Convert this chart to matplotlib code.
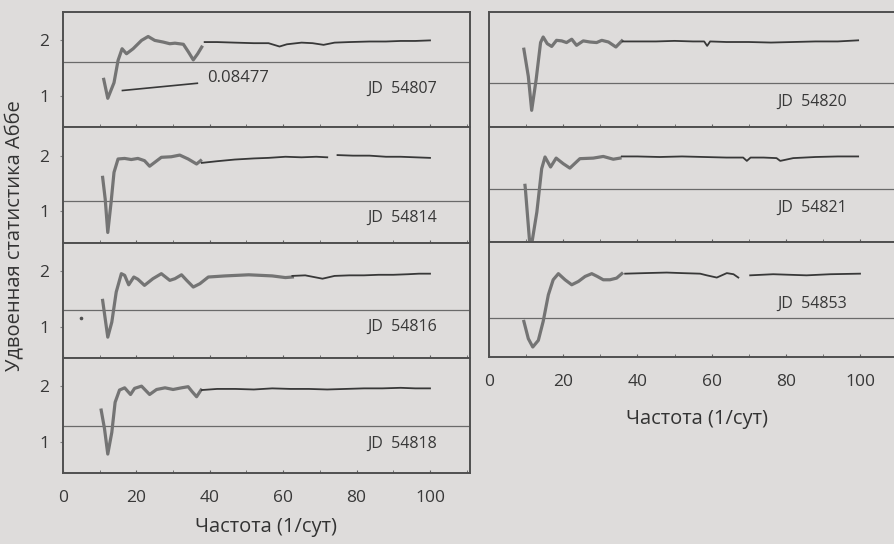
import numpy as np
import matplotlib.pyplot as plt
from matplotlib.ticker import MultipleLocator

plt.rcParams['font.family'] = ['Open Sans', 'DejaVu Sans']

# --- data: low-frequency part (grey) and tail (dark) ---
# JD 54807
f1 = [11.1, 12.2, 13.9, 15.0, 16.1, 17.3, 19.1, 21.4, 23.2, 25.0, 27.3, 29.1, 30.5, 32.8, 34.2, 35.5, 36.7, 37.8]
a1 = [1.30, 0.96, 1.24, 1.64, 1.85, 1.76, 1.85, 2.00, 2.07, 2.00, 1.97, 1.94, 1.95, 1.93, 1.79, 1.65, 1.76, 1.88]
ft1 = [38.6, 42.0, 46.8, 52.0, 56.0, 59.0, 61.0, 65.0, 68.0, 71.0, 74.0, 78.0, 83.5, 88.0, 92.0, 96.0, 100.0]
at1 = [1.97, 1.97, 1.96, 1.95, 1.95, 1.89, 1.93, 1.96, 1.95, 1.92, 1.96, 1.97, 1.98, 1.98, 1.99, 1.99, 2.00]
# JD 54814
f2 = [10.8, 11.5, 12.2, 13.1, 13.9, 15.0, 16.8, 18.6, 20.4, 22.2, 23.6, 25.0, 26.8, 29.5, 31.8, 34.1, 36.4, 37.5]
a2 = [1.61, 1.22, 0.62, 1.16, 1.70, 1.94, 1.95, 1.93, 1.95, 1.91, 1.81, 1.88, 1.97, 1.98, 2.01, 1.94, 1.85, 1.91]
ft2 = [37.8, 42.0, 46.8, 52.0, 56.0, 60.6, 65.0, 69.0, 72.0, np.nan, 74.8, 79.0, 83.5, 88.0, 92.0, 96.0, 100.0]
at2 = [1.87, 1.90, 1.93, 1.95, 1.96, 1.98, 1.97, 1.98, 1.97, np.nan, 2.01, 2.00, 2.00, 1.98, 1.98, 1.97, 1.96]
# JD 54816
f3 = [10.8, 11.5, 12.2, 13.3, 14.5, 15.9, 16.8, 17.9, 19.3, 20.4, 22.2, 24.5, 26.8, 29.1, 30.5, 32.3, 33.7,
      35.5, 37.3, 39.6, 44.2, 50.6, 57.0, 60.6, 62.5]
a3 = [1.47, 1.14, 0.81, 1.08, 1.62, 1.95, 1.92, 1.75, 1.89, 1.85, 1.74, 1.86, 1.95, 1.83, 1.86, 1.93, 1.83,
      1.71, 1.77, 1.89, 1.91, 1.93, 1.91, 1.88, 1.89]
ft3 = [62.5, 66.0, 70.7, 74.0, 78.0, 82.0, 86.0, 90.0, 94.0, 97.0, 100.0]
at3 = [1.91, 1.92, 1.86, 1.91, 1.92, 1.92, 1.93, 1.93, 1.94, 1.95, 1.95]
# JD 54818
f4 = [10.4, 11.3, 12.2, 13.3, 14.2, 15.4, 16.8, 18.4, 19.5, 21.4, 23.6, 25.5, 27.8, 30.0, 32.3, 34.1, 35.2, 36.4, 37.6]
a4 = [1.57, 1.24, 0.78, 1.17, 1.71, 1.93, 1.97, 1.85, 1.96, 2.00, 1.85, 1.94, 1.97, 1.94, 1.97, 1.99, 1.90, 1.81, 1.93]
ft4 = [37.8, 42.0, 47.0, 52.0, 57.0, 62.0, 67.0, 72.0, 77.0, 82.0, 87.0, 92.0, 96.0, 100.0]
at4 = [1.93, 1.95, 1.95, 1.94, 1.96, 1.95, 1.95, 1.94, 1.95, 1.96, 1.96, 1.97, 1.96, 1.96]
# JD 54820
f5 = [9.4, 10.6, 11.5, 12.7, 13.9, 14.6, 15.7, 16.9, 18.2, 19.6, 20.9, 22.3, 23.6, 25.4, 27.2, 29.0, 30.4, 32.2, 34.2, 35.8]
a5 = [1.84, 1.35, 0.74, 1.29, 1.96, 2.06, 1.94, 1.89, 2.00, 1.99, 1.96, 2.02, 1.91, 1.99, 1.97, 1.96, 2.00, 1.97, 1.88, 1.99]
ft5 = [36.0, 40.0, 45.0, 50.0, 55.0, 58.0, 58.8, 59.6, 64.0, 70.0, 76.0, 82.0, 88.0, 94.0, 99.5]
at5 = [1.98, 1.98, 1.98, 1.99, 1.98, 1.98, 1.90, 1.98, 1.97, 1.97, 1.96, 1.97, 1.98, 1.98, 2.00]
# JD 54821
f6 = [9.7, 9.8, 11.0, 11.5, 12.9, 14.2, 15.1, 16.6, 18.1, 20.0, 21.8, 24.5, 28.1, 30.8, 33.5, 35.3]
a6 = [1.46, 1.40, 0.40, 0.40, 0.98, 1.76, 1.97, 1.79, 1.95, 1.85, 1.77, 1.94, 1.95, 1.98, 1.93, 1.95]
ft6 = [35.8, 40.0, 46.0, 52.0, 58.0, 64.0, 68.5, 69.5, 70.5, 74.0, 77.5, 78.5, 82.0, 88.0, 94.0, 99.5]
at6 = [1.98, 1.98, 1.97, 1.98, 1.97, 1.96, 1.96, 1.90, 1.96, 1.96, 1.95, 1.90, 1.95, 1.97, 1.98, 1.98]
# JD 54853
f7 = [9.4, 10.6, 11.8, 13.3, 14.6, 16.0, 17.3, 18.7, 20.5, 22.3, 24.1, 25.9, 27.7, 29.2, 30.8, 32.6, 34.4, 35.8]
a7 = [1.08, 0.77, 0.62, 0.74, 1.08, 1.56, 1.83, 1.94, 1.83, 1.74, 1.80, 1.89, 1.94, 1.89, 1.83, 1.83, 1.86, 1.94]
ft7 = [36.7, 42.0, 47.9, 52.0, 56.9, 58.7, 61.4, 64.1, 65.9, 67.2, np.nan, 70.4, 76.6, 81.0, 85.6, 92.0, 100.0]
at7 = [1.94, 1.95, 1.96, 1.95, 1.94, 1.91, 1.87, 1.95, 1.93, 1.87, np.nan, 1.91, 1.93, 1.92, 1.91, 1.93, 1.94]

labels = ['JD  54807', 'JD  54814', 'JD  54816', 'JD  54818', 'JD  54820', 'JD  54821', 'JD  54853']
levels = [1.62, 1.19, 1.29, 1.28, 1.24, 1.40, 1.15]
label_y = [1.13, 0.88, 0.99, 0.97, 0.90, 1.06, 1.40]

# stray point in the JD 54816 panel and the marked minimum in JD 54807
stray_f, stray_v = [4.9], [1.15]
note_f = [16.2, 36.6]
note_v = [1.10, 1.23]
note_text = '0.08477'

BG = '#dedcdb'
INK = '#383838'
W, H = 894, 544

fig = plt.figure(figsize=(W / 100, H / 100), dpi=100, facecolor=BG)


def add_panel(left_px, top_px, w_px, h_px, xmax):
    ax = fig.add_axes([left_px / W, 1 - (top_px + h_px) / H, w_px / W, h_px / H])
    ax.set_facecolor(BG)
    ax.set_xlim(0, xmax)
    ax.set_ylim(0.44, 2.51)
    for s in ax.spines.values():
        s.set_color('#505050')
        s.set_linewidth(1.4)
    return ax


curves = [(f1, a1, ft1, at1), (f2, a2, ft2, at2), (f3, a3, ft3, at3), (f4, a4, ft4, at4),
          (f5, a5, ft5, at5), (f6, a6, ft6, at6), (f7, a7, ft7, at7)]

axes = []
# left column: 4 panels
lh = (473 - 12) / 4
for i in range(4):
    axes.append(add_panel(63, 12 + i * lh, 407, lh, 407 / 3.67))
# right column: 3 panels, runs past the right edge of the page
rh = (357 - 12) / 3
for i in range(3):
    axes.append(add_panel(489, 12 + i * rh, 112 * 3.71, rh, 112))

for k, ax in enumerate(axes):
    fa, va, fb, vb = curves[k]
    ax.axhline(levels[k], color='#6a6a6a', lw=0.9, zorder=1)
    ax.plot(fa, va, color='#747474', lw=2.3, solid_joinstyle='round', zorder=2)
    ax.plot(fb, vb, color='#383838', lw=1.3, zorder=3)
    xr = 101.8 if k < 4 else 96.5
    ax.text(xr, label_y[k], labels[k], ha='right', va='center', fontsize=11.5, color=INK)
    ax.xaxis.set_major_locator(MultipleLocator(20))
    ax.xaxis.set_minor_locator(MultipleLocator(10))
    ax.tick_params(axis='x', which='both', direction='in', length=2.5, color='#606060',
                   labelsize=12.5, labelcolor=INK, pad=12)
    is_bottom = k in (3, 6)
    if not is_bottom:
        ax.tick_params(axis='x', which='both', labelbottom=False)
    if k < 4:
        ax.set_yticks([1, 2])
        ax.tick_params(axis='y', direction='out', length=2, color='#808080',
                       labelsize=12.5, labelcolor=INK, pad=8)
    else:
        ax.set_yticks([])

axes[2].plot(stray_f, stray_v, 'o', ms=1.6, color='#505050', clip_on=False)
axes[0].plot(note_f, note_v, color=INK, lw=1.2)
axes[0].text(39.3, 1.33, note_text, ha='left', va='center', fontsize=12, color=INK)

axes[3].set_xlabel('Частота (1/сут)', fontsize=14.5, color='#333333', labelpad=8)
axes[6].set_xlabel('Частота (1/сут)', fontsize=14.5, color='#333333', labelpad=14)
fig.text(15 / W, 1 - 236 / H, 'Удвоенная статистика Аббе', rotation=90, ha='center', va='center',
         fontsize=14.5, color='#333333')

fig.savefig('out.png', dpi=100, facecolor=BG)
